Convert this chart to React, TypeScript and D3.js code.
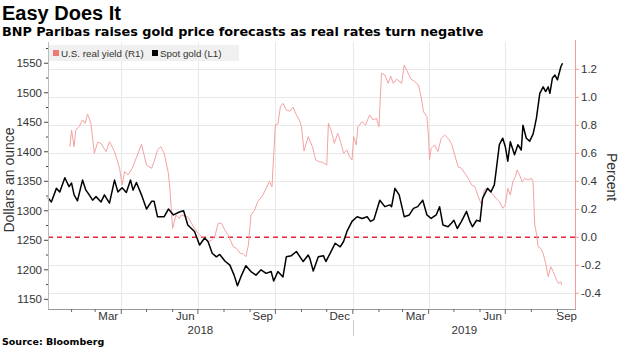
import React from "react";
import * as d3 from "d3";

const goldDates = ["2018-01-04","2018-01-08","2018-01-14","2018-01-18","2018-01-24","2018-01-29","2018-02-01","2018-02-04","2018-02-08","2018-02-14","2018-02-18","2018-02-22","2018-02-26","2018-03-02","2018-03-08","2018-03-12","2018-03-18","2018-03-24","2018-03-28","2018-04-02","2018-04-07","2018-04-12","2018-04-15","2018-04-19","2018-04-25","2018-05-01","2018-05-07","2018-05-10","2018-05-14","2018-05-22","2018-05-27","2018-06-02","2018-06-09","2018-06-14","2018-06-19","2018-06-27","2018-07-03","2018-07-09","2018-07-13","2018-07-18","2018-07-23","2018-07-27","2018-08-02","2018-08-08","2018-08-13","2018-08-17","2018-08-21","2018-08-27","2018-09-02","2018-09-08","2018-09-14","2018-09-20","2018-09-26","2018-09-29","2018-10-04","2018-10-10","2018-10-14","2018-10-20","2018-10-26","2018-11-03","2018-11-09","2018-11-11","2018-11-15","2018-11-21","2018-11-27","2018-11-30","2018-12-05","2018-12-11","2018-12-17","2018-12-21","2018-12-25","2018-12-31","2019-01-06","2019-01-12","2019-01-18","2019-01-22","2019-01-26","2019-01-30","2019-02-02","2019-02-08","2019-02-14","2019-02-16","2019-02-20","2019-02-25","2019-03-03","2019-03-09","2019-03-14","2019-03-19","2019-03-25","2019-03-30","2019-04-04","2019-04-10","2019-04-14","2019-04-18","2019-04-24","2019-04-28","2019-05-01","2019-05-05","2019-05-10","2019-05-16","2019-05-20","2019-05-23","2019-05-28","2019-06-01","2019-06-04","2019-06-10","2019-06-14","2019-06-18","2019-06-20","2019-06-24","2019-06-28","2019-07-01","2019-07-04","2019-07-07","2019-07-12","2019-07-16","2019-07-20","2019-07-22","2019-07-26","2019-07-30","2019-08-03","2019-08-05","2019-08-07","2019-08-11","2019-08-15","2019-08-18","2019-08-21","2019-08-23","2019-08-26","2019-08-29","2019-09-01","2019-09-05","2019-09-07"];
const goldValues = [1322,1315,1338,1332,1356,1341,1347,1327,1317,1352,1335,1327,1318,1324,1315,1327,1313,1352,1332,1339,1331,1352,1335,1348,1327,1303,1316,1316,1290,1290,1303,1293,1298,1300,1276,1265,1242,1254,1248,1228,1222,1226,1215,1208,1191,1173,1188,1207,1197,1191,1200,1194,1197,1181,1197,1188,1222,1224,1231,1214,1225,1219,1198,1222,1224,1214,1228,1245,1239,1248,1265,1282,1290,1287,1290,1282,1285,1304,1318,1307,1310,1307,1338,1327,1290,1293,1304,1307,1318,1293,1287,1293,1307,1276,1273,1279,1284,1270,1282,1299,1282,1273,1284,1282,1321,1338,1332,1344,1366,1412,1423,1409,1384,1417,1395,1412,1403,1445,1423,1418,1430,1443,1457,1499,1510,1502,1510,1499,1525,1530,1522,1544,1550];

const yieldDates = ["2018-01-30","2018-02-01","2018-02-04","2018-02-06","2018-02-10","2018-02-14","2018-02-17","2018-02-20","2018-02-24","2018-02-28","2018-03-04","2018-03-08","2018-03-14","2018-03-18","2018-03-24","2018-03-30","2018-04-02","2018-04-05","2018-04-09","2018-04-14","2018-04-19","2018-04-25","2018-05-01","2018-05-07","2018-05-10","2018-05-14","2018-05-18","2018-05-22","2018-05-27","2018-05-29","2018-06-01","2018-06-05","2018-06-09","2018-06-11","2018-06-19","2018-06-27","2018-07-03","2018-07-09","2018-07-13","2018-07-17","2018-07-21","2018-07-25","2018-07-29","2018-08-02","2018-08-06","2018-08-12","2018-08-16","2018-08-20","2018-08-24","2018-08-27","2018-08-30","2018-09-02","2018-09-06","2018-09-10","2018-09-16","2018-09-20","2018-09-24","2018-09-27","2018-09-29","2018-10-01","2018-10-04","2018-10-07","2018-10-10","2018-10-14","2018-10-18","2018-10-22","2018-10-26","2018-10-30","2018-11-01","2018-11-04","2018-11-09","2018-11-14","2018-11-18","2018-11-22","2018-11-26","2018-12-01","2018-12-03","2018-12-06","2018-12-10","2018-12-14","2018-12-18","2018-12-21","2018-12-25","2018-12-28","2018-12-31","2019-01-02","2019-01-05","2019-01-07","2019-01-12","2019-01-16","2019-01-21","2019-01-25","2019-01-29","2019-02-01","2019-02-04","2019-02-08","2019-02-12","2019-02-15","2019-02-18","2019-02-22","2019-02-28","2019-03-03","2019-03-07","2019-03-11","2019-03-15","2019-03-20","2019-03-23","2019-03-26","2019-03-30","2019-04-01","2019-04-02","2019-04-04","2019-04-08","2019-04-12","2019-04-16","2019-04-20","2019-04-24","2019-04-28","2019-05-02","2019-05-06","2019-05-10","2019-05-14","2019-05-18","2019-05-22","2019-05-26","2019-05-30","2019-06-03","2019-06-06","2019-06-10","2019-06-13","2019-06-17","2019-06-20","2019-06-24","2019-06-28","2019-07-01","2019-07-04","2019-07-07","2019-07-10","2019-07-13","2019-07-15","2019-07-18","2019-07-21","2019-07-24","2019-07-28","2019-08-01","2019-08-03","2019-08-05","2019-08-07","2019-08-09","2019-08-12","2019-08-15","2019-08-18","2019-08-21","2019-08-24","2019-08-27","2019-08-30","2019-09-02","2019-09-05","2019-09-06"];
const yieldValues = [0.647,0.766,0.647,0.766,0.79,0.838,0.814,0.879,0.814,0.6,0.679,0.67,0.612,0.683,0.612,0.493,0.374,0.47,0.445,0.493,0.57,0.664,0.516,0.493,0.54,0.624,0.647,0.6,0.457,0.326,0.064,0.159,0.135,0.159,0.147,0.064,0.016,-0.007,-0.031,-0.02,0.004,0.1,0.1,0.052,0.016,-0.067,-0.08,-0.114,-0.12,-0.138,-0.055,0.159,0.19,0.254,0.3,0.35,0.4,0.36,0.588,0.802,0.81,0.933,0.957,0.91,0.9,0.93,0.874,0.83,0.79,0.617,0.719,0.647,0.552,0.54,0.536,0.516,0.814,0.767,0.671,0.743,0.671,0.6,0.624,0.576,0.552,0.719,0.66,0.79,0.826,0.802,0.874,0.838,0.85,0.79,1.171,1.16,1.1,1.15,1.1,1.13,1.1,1.23,1.18,1.13,1.115,1.088,1.004,0.897,0.862,0.707,0.552,0.636,0.66,0.612,0.707,0.731,0.707,0.671,0.588,0.504,0.493,0.457,0.421,0.374,0.362,0.29,0.231,0.338,0.35,0.326,0.302,0.279,0.255,0.207,0.231,0.35,0.302,0.397,0.433,0.481,0.445,0.397,0.421,0.41,0.421,0.397,0.088,0.029,-0.067,-0.079,-0.114,-0.186,-0.281,-0.21,-0.245,-0.293,-0.329,-0.317,-0.34];

const leftTicks = [1150, 1200, 1250, 1300, 1350, 1400, 1450, 1500, 1550];
const rightTicks = [-0.4, -0.2, 0.0, 0.2, 0.4, 0.6, 0.8, 1.0, 1.2];
const monthLabels = ["2018-03", "2018-06", "2018-09", "2018-12", "2019-03", "2019-06", "2019-09"];
const yearLabels = ["2018", "2019"];
const seriesNames = ["U.S. real yield (R1)", "Spot gold (L1)"];

const W = 620, H = 348;
const L = 48, R = 576, T = 42, B = 309;
const FONT = "'Liberation Sans', Arial, sans-serif";
const BOLD = "'DejaVu Sans', 'Liberation Sans', sans-serif";

export default function App() {
  const parse = d3.timeParse("%Y-%m-%d");
  const x = d3.scaleTime().domain([parse("2018-01-04")!, parse("2019-09-23")!]).range([L, R]);
  const yL = d3.scaleLinear().domain([1133.6, 1586]).range([B, T]);
  const yR = d3.scaleLinear().domain([-0.512, 1.395]).range([B, T]);

  const gold = goldDates.map((d, i) => ({ d: parse(d)!, v: goldValues[i] }));
  const yld = yieldDates.map((d, i) => ({ d: parse(d)!, v: yieldValues[i] }));
  const goldLine = d3.line<{ d: Date; v: number }>().x(p => x(p.d)).y(p => yL(p.v));
  const yldLine = d3.line<{ d: Date; v: number }>().x(p => x(p.d)).y(p => yR(p.v));

  const [d0, d1] = x.domain();
  const months = d3.timeMonth.range(d3.timeMonth.ceil(d0), d1);
  const quarters = months.filter(m => m.getMonth() % 3 === 0);
  const fmtM = d3.timeFormat("%b");
  const minorLeft = d3.range(1150, 1576, 25);

  return (
    <svg width={W} height={H} style={{ position: "absolute", left: 0, top: 0, background: "#fff" }} fontFamily={FONT}>
      <text x={2} y={20} fontSize={20} fontWeight="bold" fill="#000">Easy Does It</text>
      <text x={2} y={36} fontSize={12.8} fontWeight="bold" fill="#000" fontFamily={BOLD}>BNP Paribas raises gold price forecasts as real rates turn negative</text>

      {/* grid */}
      {rightTicks.filter(t => t !== 0).map(t => (
        <line key={"h" + t} x1={L} x2={R} y1={Math.round(yR(t)) + 0.5} y2={Math.round(yR(t)) + 0.5} stroke="#e8e8e8" strokeWidth={1} />
      ))}
      {quarters.map(q => (
        <line key={"v" + q.getTime()} x1={Math.round(x(q)) + 0.5} x2={Math.round(x(q)) + 0.5} y1={T} y2={B} stroke="#e8e8e8" strokeWidth={1} />
      ))}

      {/* legend */}
      <rect x={L + 1} y={45} width={190} height={16} fill="#f0f0f0" />
      <rect x={L + 5} y={50} width={6} height={6} fill="#f07878" />
      <text x={L + 13} y={57} fontSize={9.8} fill="#333">{seriesNames[0]}</text>
      <rect x={L + 104} y={50} width={6} height={6} fill="#000" />
      <text x={L + 112} y={57} fontSize={9.8} fill="#333">{seriesNames[1]}</text>

      {/* zero line */}
      <line x1={L} x2={R} y1={yR(0)} y2={yR(0)} stroke="#e8253f" strokeWidth={1.6} strokeDasharray="5,4" />

      {/* series */}
      <path d={yldLine(yld)!} fill="none" stroke="#f4a2a2" strokeWidth={1} />
      <path d={goldLine(gold)!} fill="none" stroke="#000" strokeWidth={1.5} strokeLinejoin="round" />

      {/* left axis */}
      <line x1={L + 0.5} x2={L + 0.5} y1={T} y2={B} stroke="#bbb" />
      {minorLeft.map(t => (
        <line key={"lt" + t} x1={t % 50 === 0 ? L - 4 : L - 2} x2={L} y1={yL(t)} y2={yL(t)} stroke="#444" />
      ))}
      {leftTicks.map(t => (
        <text key={"ll" + t} x={L - 6} y={yL(t) + 4} fontSize={11.5} textAnchor="end" fill="#333">{t}</text>
      ))}
      <text transform={`translate(14,180) rotate(-90)`} fontSize={14} textAnchor="middle" fill="#333">Dollars an ounce</text>

      {/* right axis */}
      <line x1={R - 0.5} x2={R - 0.5} y1={40} y2={B} stroke="#f09a9a" />
      {rightTicks.map(t => (
        <line key={"rt" + t} x1={R} x2={R + 3} y1={yR(t)} y2={yR(t)} stroke="#f09a9a" />
      ))}
      {rightTicks.map(t => (
        <text key={"rl" + t} x={R + 5} y={yR(t) + 4} fontSize={11.5} fill="#333">{d3.format(".1f")(t).replace("−", "-")}</text>
      ))}
      <text transform={`translate(607,177) rotate(90)`} fontSize={14} textAnchor="middle" fill="#333">Percent</text>

      {/* bottom axis */}
      <line x1={L} x2={R} y1={B + 0.5} y2={B + 0.5} stroke="#999" />
      {months.map(m => (
        <line key={"bt" + m.getTime()} x1={x(m)} x2={x(m)} y1={B} y2={B + (m.getMonth() % 3 === 0 ? 5 : 3)} stroke="#666" />
      ))}
      {monthLabels.map(s => {
        const m0 = d3.timeParse("%Y-%m")(s)!;
        const m1 = d3.timeMonth.offset(m0, 1);
        const cx = (x(m0) + Math.min(x(m1), R)) / 2;
        return <text key={"ml" + s} x={cx} y={320} fontSize={11.5} textAnchor="middle" fill="#333">{fmtM(m0)}</text>;
      })}
      {yearLabels.map(yr => {
        const a = Math.max(x(new Date(+yr, 0, 1)), L);
        const b = Math.min(x(new Date(+yr + 1, 0, 1)), R);
        return <text key={"y" + yr} x={(a + b) / 2} y={334} fontSize={11.5} textAnchor="middle" fill="#333">{yr}</text>;
      })}
      <line x1={Math.round(x(new Date(2019, 0, 1))) + 0.5} x2={Math.round(x(new Date(2019, 0, 1))) + 0.5} y1={320} y2={336} stroke="#ccc" />

      <text x={2} y={345} fontSize={9.5} fontWeight="bold" fill="#000" fontFamily={BOLD}>Source: Bloomberg</text>
    </svg>
  );
}
